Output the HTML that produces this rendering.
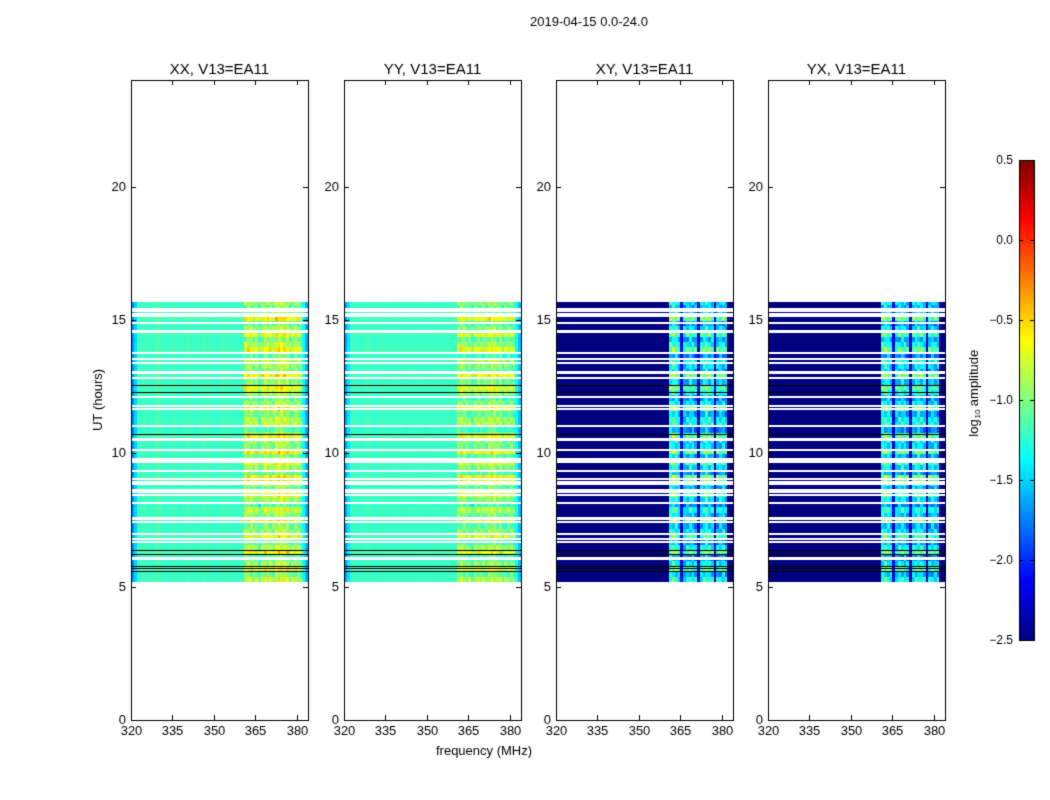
<!DOCTYPE html>
<html><head><meta charset="utf-8"><style>
body{margin:0;background:#fff;font-family:"Liberation Sans","DejaVu Sans",sans-serif;}
#wrap{position:relative;width:1050px;height:800px;overflow:hidden;}
canvas{position:absolute;left:0;top:0;}
</style></head><body>
<div id="wrap">
<canvas id="c" width="1050" height="800"></canvas>
</div>
<script>
const panelTitles=["XX, V13=EA11","YY, V13=EA11","XY, V13=EA11","YX, V13=EA11"];
const panelLeft=[131,344,556,768];
const xTicks=[320,335,350,365,380];
const yTicks=[0,5,10,15,20];
const cbTicks=[0.5,0.0,-0.5,-1.0,-1.5,-2.0,-2.5];
const freqs=[];for(let f=320;f<384;f++)freqs.push(f);
const profXX=[-1.7,-1.5,-1.2,-1.2,-1.18,-1.2,-1.22,-1.2,-1.18,-1.15,-1.18,-1.2,-1.22,-1.2,-1.2,-1.18,-1.2,-1.22,-1.2,-1.2,-1.18,-1.2,-1.2,-1.22,-1.2,-1.2,-1.18,-1.2,-1.2,-1.2,-1.22,-1.2,-1.2,-1.18,-1.2,-1.2,-1.2,-1.22,-1.2,-1.2,-1.2,-0.95,-0.9,-0.95,-1.0,-0.95,-1.15,-0.95,-0.9,-0.95,-0.95,-1.0,-0.85,-0.8,-0.85,-0.9,-0.85,-1.1,-1.0,-0.95,-1.0,-1.05,-1.35,-1.6];
const profYY=[-1.65,-1.45,-1.22,-1.2,-1.2,-1.22,-1.2,-1.2,-1.18,-1.2,-1.2,-1.22,-1.2,-1.2,-1.2,-1.2,-1.22,-1.2,-1.2,-1.2,-1.2,-1.2,-1.22,-1.2,-1.2,-1.2,-1.2,-1.2,-1.2,-1.22,-1.2,-1.2,-1.2,-1.2,-1.2,-1.2,-1.22,-1.2,-1.2,-1.2,-1.2,-1.0,-0.95,-1.0,-1.05,-1.05,-1.18,-1.0,-1.0,-1.05,-1.0,-1.05,-0.95,-0.9,-0.95,-1.0,-0.95,-1.15,-1.05,-1.05,-1.05,-1.1,-1.35,-1.55];
const profXY=[-2.5,-2.5,-2.5,-2.5,-2.5,-2.5,-2.5,-2.5,-2.5,-2.5,-2.5,-2.5,-2.5,-2.5,-2.5,-2.5,-2.5,-2.5,-2.5,-2.5,-2.5,-2.5,-2.5,-2.5,-2.5,-2.5,-2.5,-2.5,-2.5,-2.5,-2.5,-2.5,-2.5,-2.5,-2.5,-2.5,-2.5,-2.5,-2.5,-2.5,-2.5,-1.35,-1.3,-1.35,-1.5,-2.2,-1.6,-1.5,-1.45,-1.5,-1.6,-2.3,-1.5,-1.4,-1.35,-1.45,-1.5,-2.3,-1.55,-1.5,-1.5,-1.6,-2.5,-2.5];
const profYX=[-2.5,-2.5,-2.5,-2.5,-2.5,-2.5,-2.5,-2.5,-2.5,-2.5,-2.5,-2.5,-2.5,-2.5,-2.5,-2.5,-2.5,-2.5,-2.5,-2.5,-2.5,-2.5,-2.5,-2.5,-2.5,-2.5,-2.5,-2.5,-2.5,-2.5,-2.5,-2.5,-2.5,-2.5,-2.5,-2.5,-2.5,-2.5,-2.5,-2.5,-2.5,-1.4,-1.35,-1.4,-1.5,-2.2,-1.55,-1.45,-1.45,-1.5,-1.6,-2.3,-1.5,-1.45,-1.4,-1.45,-1.5,-2.3,-1.55,-1.5,-1.55,-1.6,-2.5,-2.5];
const profiles=[profXX,profYY,profXY,profYX];
const tStart=5.18, tStep=0.2;
const rowVar=[0.1,-0.1,0.25,0.0,-0.2,0.3,0.05,-0.15,0.2,0.0,-0.1,0.3,-0.05,0.1,-0.2,0.0,0.25,-0.1,0.05,0.3,-0.15,0.0,0.2,-0.1,0.3,-0.05,0.0,0.25,-0.2,0.1,0.05,-0.1,0.3,0.0,-0.15,0.1,0.25,-0.05,0.3,-0.1,0.0,0.1,-0.2,0.25,0.05,-0.1,0.2,0.0,-0.15,0.3,-0.05,-0.1,0.0];
const colVar=[0.1,-0.05,0.15,0.0,-0.1,0.2,-0.05,0.05];
const whiteGaps=[15.42,15.33,15.24,15.16,14.88,13.77,13.55,13.40,12.83,12.11,11.77,11.67,11.04,10.14,9.80,9.74,9.66,9.35,9.04,8.94,8.86,8.64,8.54,8.43,8.12,7.44,6.99,6.77,6.69];
const thickGaps=[14.59,13.05,10.52,7.58,6.07];
const blackLines=[12.56,12.31,10.74,6.39,6.24,5.79,5.69,5.58];
const tEnd=15.69;

const cv=document.getElementById('c');const ctx=cv.getContext('2d');
const PW=177, TOP=80, BOT=720;
function yS(t){return BOT-(t/24)*(BOT-TOP);}
function xS(i,f){return panelLeft[i]+(f-320)/64*PW;}
function jet(v){let x=(v+2.5)/3;x=Math.max(0,Math.min(1,x));
 const c=a=>Math.round(255*Math.max(0,Math.min(1,a)));
 return `rgb(${c(1.5-Math.abs(4*x-3))},${c(1.5-Math.abs(4*x-2))},${c(1.5-Math.abs(4*x-1))})`;}
ctx.fillStyle='#fff';ctx.fillRect(0,0,1050,800);
for(let p=0;p<4;p++){
 const prof=profiles[p];
 for(let r=0;r<rowVar.length;r++){
  const t0=tStart+r*tStep, t1=Math.min(tEnd,t0+tStep); if(t0>=tEnd)break;
  for(let c=0;c<freqs.length;c++){
   const f=freqs[c];const band=(f>=361&&f<=381)?1:0.1;
   const mod=rowVar[r]+(band===1?colVar[(c+r)%colVar.length]:0);
   const v=prof[c]+mod*band*(p>=2?1.3:1)*(prof[c]<-2.1&&p>=2?0.3:1);
   ctx.fillStyle=jet(v);
   const x0=Math.round(xS(p,f)),x1=Math.round(xS(p,f+1)),ya=Math.round(yS(t1)),yb=Math.round(yS(t0));
   ctx.fillRect(x0,ya,x1-x0,yb-ya);
  }
 }
 ctx.fillStyle='#fff';
 whiteGaps.forEach(t=>ctx.fillRect(panelLeft[p],Math.round(yS(t))-1,PW,2));
 thickGaps.forEach(t=>ctx.fillRect(panelLeft[p],Math.round(yS(t))-1,PW,3));
 ctx.fillStyle='#000';
 blackLines.forEach(t=>ctx.fillRect(panelLeft[p],Math.round(yS(t)),PW,1));
 ctx.strokeStyle='#000';ctx.lineWidth=1;ctx.strokeRect(panelLeft[p]+0.5,TOP+0.5,PW,BOT-TOP);
 ctx.fillStyle='#000';ctx.font='13px "Liberation Sans",sans-serif';
 ctx.textAlign='center';ctx.textBaseline='top';
 xTicks.forEach(f=>{const x=Math.round(xS(p,f))+0.5;ctx.beginPath();ctx.moveTo(x,BOT);ctx.lineTo(x,BOT-5);ctx.moveTo(x,TOP);ctx.lineTo(x,TOP+5);ctx.stroke();ctx.fillText(String(f),x,BOT+5);});
 ctx.textAlign='right';ctx.textBaseline='middle';
 yTicks.forEach(t=>{const y=Math.round(yS(t))+0.5;ctx.beginPath();ctx.moveTo(panelLeft[p],y);ctx.lineTo(panelLeft[p]+5,y);ctx.moveTo(panelLeft[p]+PW,y);ctx.lineTo(panelLeft[p]+PW-5,y);ctx.stroke();ctx.fillText(String(t),panelLeft[p]-5,y);});
 ctx.textAlign='center';ctx.textBaseline='alphabetic';ctx.font='15px "Liberation Sans",sans-serif';
 ctx.fillText(panelTitles[p],panelLeft[p]+PW/2,74);
}
ctx.font='13px "Liberation Sans",sans-serif';ctx.textAlign='center';ctx.fillStyle='#000';
ctx.fillText('2019-04-15 0.0-24.0',589,26);
ctx.fillText('frequency (MHz)',484,755);
ctx.save();ctx.translate(102,400);ctx.rotate(-Math.PI/2);ctx.fillText('UT (hours)',0,0);ctx.restore();
const CX=1019,CW=15,CT=160,CB=640;
for(let y=CT;y<CB;y++){ctx.fillStyle=jet(0.5-(y-CT+0.5)/(CB-CT)*3);ctx.fillRect(CX,y,CW,1);}
ctx.strokeStyle='#000';ctx.strokeRect(CX+0.5,CT+0.5,CW,CB-CT);
ctx.font='12px "Liberation Sans",sans-serif';ctx.textAlign='right';ctx.textBaseline='middle';ctx.fillStyle='#000';
cbTicks.forEach(v=>{const y=Math.round(CB-(v+2.5)/3*(CB-CT))+0.5;ctx.beginPath();ctx.moveTo(CX,y);ctx.lineTo(CX+4,y);ctx.moveTo(CX+CW,y);ctx.lineTo(CX+CW-4,y);ctx.stroke();ctx.fillText((v<0?'\u2212':'')+Math.abs(v).toFixed(1),1013,y);});
ctx.save();ctx.translate(974,400);ctx.rotate(-Math.PI/2);ctx.textAlign='center';ctx.textBaseline='middle';ctx.font='13px "Liberation Sans",sans-serif';
ctx.fillText('log',-28,0);ctx.font='8px "Liberation Sans",sans-serif';ctx.fillText('10',-14,4);ctx.font='13px "Liberation Sans",sans-serif';ctx.fillText('amplitude',22,0);ctx.restore();
</script>
</body></html>
